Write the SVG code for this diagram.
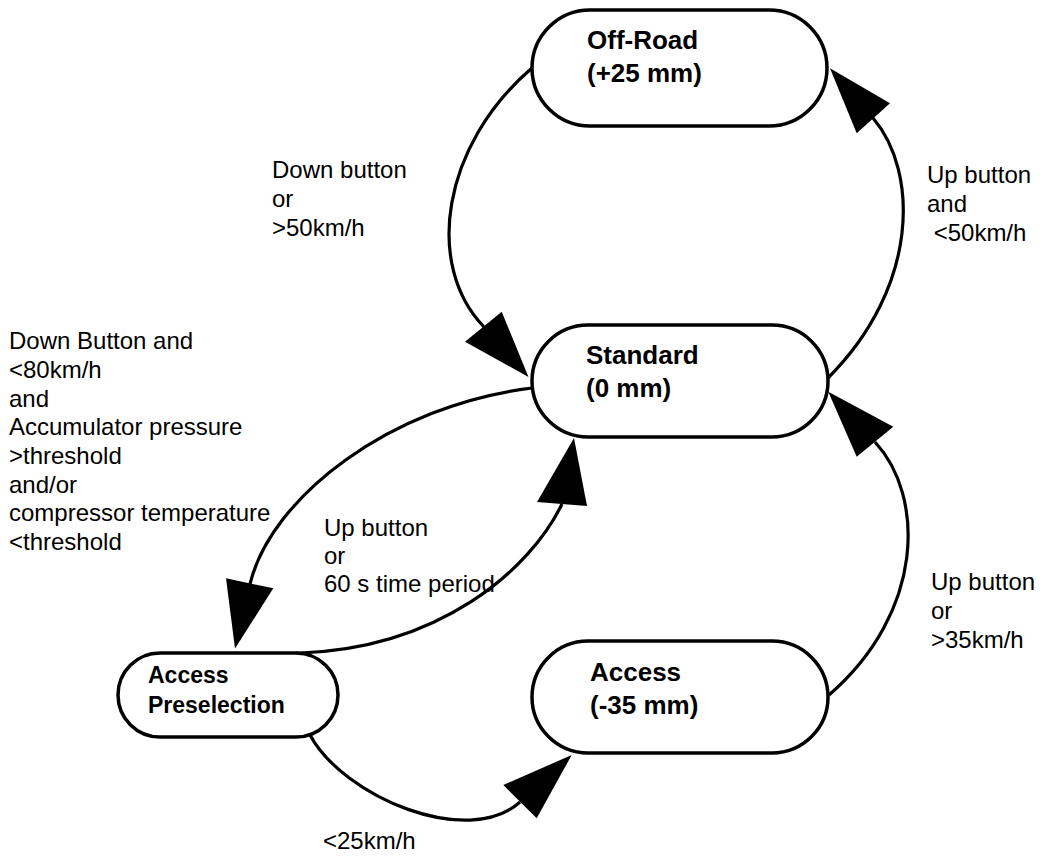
<svg xmlns="http://www.w3.org/2000/svg" width="1048" height="856" viewBox="0 0 1048 856">
<style>
.node rect{fill:#fff;stroke:#000;stroke-width:3.5}
.node text{font-family:"Liberation Sans",Arial,sans-serif;font-weight:bold;font-size:26px;fill:#000}
.conn path{fill:none;stroke:#000;stroke-width:3.2}
.conn polygon{fill:#000;stroke:none}
.lbl{font-family:"Liberation Sans",Arial,sans-serif;font-size:24px;fill:#000}
</style>
<rect x="0" y="0" width="1048" height="856" fill="#fff"/>
<g id="connectors" class="conn">
<path d="M532 68 C442 145 424 265 484 327"/>
<polygon points="528.5,377 465,341.7 501.7,311.7"/>
<path d="M828 378 C919 287 919 172 873 118"/>
<polygon points="830,68.3 856.7,133.3 890,103.3"/>
<path d="M532 388 C391 405 271 497 250 584"/>
<polygon points="235,648.5 226,578.3 273.3,588.3"/>
<path d="M296 653 L300 653 C440 648 530 570 562 504"/>
<polygon points="574,438 537,502 587,506"/>
<path d="M310 735 C343.5 797 468 849 520 802"/>
<polygon points="571.7,755 503.3,785 536.7,818.3"/>
<path d="M829 695 C925 612 925 496 875 442"/>
<polygon points="828.3,391.7 856.7,456.7 893.3,426.7"/>
</g>
<g id="offroad" class="node">
<rect x="532" y="10" width="295" height="116" rx="58" ry="58"/>
<text x="587" y="49">Off-Road</text>
<text x="587" y="82">(+25 mm)</text>
</g>
<g id="standard" class="node">
<rect x="532" y="325" width="296" height="112" rx="56" ry="56"/>
<text x="586" y="364">Standard</text>
<text x="586" y="397">(0 mm)</text>
</g>
<g id="preselection" class="node">
<rect x="118" y="653" width="220" height="84" rx="42" ry="42"/>
<text x="148" y="683" style="font-size:23px">Access</text>
<text x="148" y="713" style="font-size:23px">Preselection</text>
</g>
<g id="access" class="node">
<rect x="532" y="641" width="296" height="112" rx="56" ry="56"/>
<text x="590" y="681">Access</text>
<text x="590" y="714">(-35 mm)</text>
</g>
<g id="labels" class="lbl">
<text x="272" y="178">Down button</text>
<text x="272" y="207">or</text>
<text x="272" y="236">&gt;50km/h</text>
<text x="927" y="183">Up button</text>
<text x="927" y="212">and</text>
<text x="927" y="241" xml:space="preserve"> &lt;50km/h</text>
<text x="9" y="349">Down Button and</text>
<text x="9" y="378">&lt;80km/h</text>
<text x="9" y="407">and</text>
<text x="9" y="435">Accumulator pressure</text>
<text x="9" y="464">&gt;threshold</text>
<text x="9" y="493">and/or</text>
<text x="9" y="521">compressor temperature</text>
<text x="9" y="550">&lt;threshold</text>
<text x="324" y="536">Up button</text>
<text x="324" y="564">or</text>
<text x="324" y="592">60 s time period</text>
<text x="931" y="590">Up button</text>
<text x="931" y="619">or</text>
<text x="931" y="648">&gt;35km/h</text>
<text x="323" y="849">&lt;25km/h</text>
</g>
</svg>
